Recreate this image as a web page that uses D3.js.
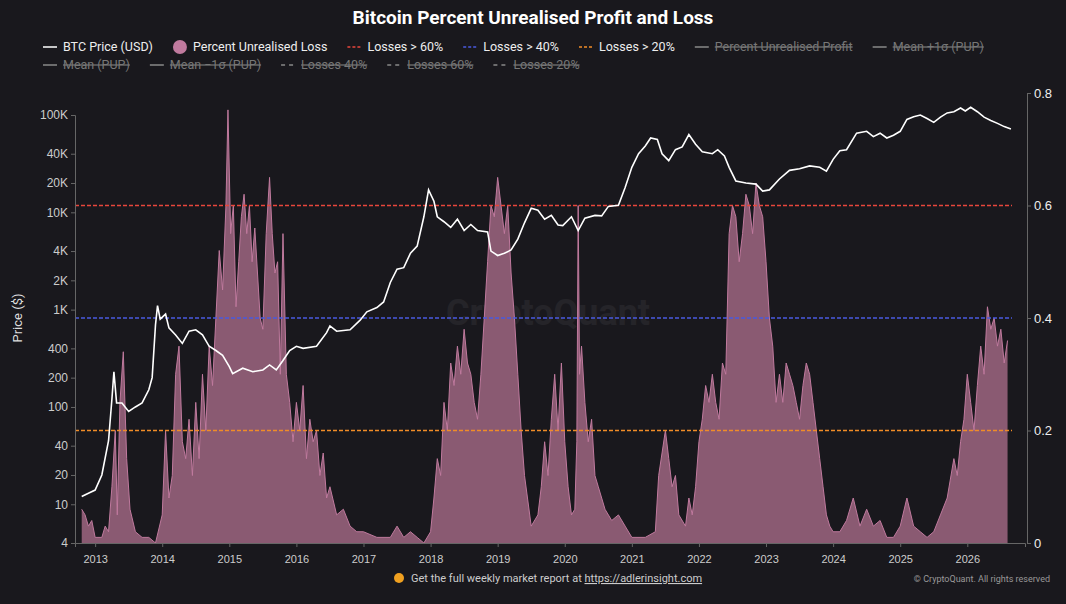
<!DOCTYPE html>
<html><head><meta charset="utf-8">
<script src="https://cdn.jsdelivr.net/npm/d3@7"></script>
<style>body{margin:0;background:#19181d;}svg{display:block;font-family:Roboto,"Open Sans",sans-serif;}</style>
</head><body><svg id="c" width="1066" height="604"></svg>
<script>
const priceDates=[2012.8,2012.9,2013.0,2013.1,2013.2,2013.25,2013.28,2013.32,2013.4,2013.5,2013.6,2013.7,2013.8,2013.85,2013.9,2013.93,2013.97,2014.05,2014.1,2014.2,2014.3,2014.4,2014.5,2014.6,2014.7,2014.8,2014.9,2015.0,2015.05,2015.2,2015.35,2015.5,2015.6,2015.7,2015.8,2015.9,2016.0,2016.1,2016.3,2016.45,2016.5,2016.6,2016.8,2016.95,2017.05,2017.2,2017.3,2017.4,2017.5,2017.6,2017.7,2017.8,2017.9,2017.97,2018.05,2018.1,2018.2,2018.3,2018.4,2018.5,2018.6,2018.7,2018.85,2018.9,2019.0,2019.1,2019.2,2019.3,2019.4,2019.5,2019.6,2019.7,2019.8,2019.9,2019.97,2020.1,2020.2,2020.3,2020.45,2020.55,2020.65,2020.8,2020.9,2021.0,2021.1,2021.2,2021.28,2021.38,2021.45,2021.55,2021.65,2021.75,2021.85,2021.95,2022.05,2022.2,2022.28,2022.38,2022.45,2022.55,2022.7,2022.85,2022.95,2023.05,2023.2,2023.35,2023.5,2023.65,2023.8,2023.9,2024.0,2024.1,2024.2,2024.35,2024.5,2024.6,2024.7,2024.8,2024.9,2025.0,2025.1,2025.2,2025.3,2025.4,2025.5,2025.6,2025.7,2025.8,2025.9,2025.97,2026.05,2026.15,2026.25,2026.35,2026.45,2026.55,2026.65];
const priceValues=[12,13,14,20,45,120,230,110,110,90,100,110,150,200,700,1100,800,900,650,550,450,600,620,550,420,380,340,260,220,250,230,240,270,240,300,380,420,400,420,580,680,600,620,780,950,1050,1200,1900,2600,2700,3800,4500,9000,17000,13000,9000,8000,7000,8500,6500,7500,6500,6300,4000,3600,3800,4100,5300,7800,11000,10500,8500,9300,7400,7300,9000,6500,8700,9300,9200,11500,11800,18000,29000,40000,48000,58000,56000,40000,34000,44000,47000,63000,50000,42000,40000,44000,38000,29000,21000,20000,19500,16500,17000,22000,27000,28000,30000,29000,26500,35000,43000,44000,65000,68000,60000,65000,58000,62000,68000,90000,96000,100000,92000,84000,95000,105000,108000,118000,110000,120000,108000,95000,88000,82000,76000,72000,69000,68000,70000];
const lossDates=[2012.8,2012.85,2012.9,2012.95,2013.0,2013.1,2013.15,2013.2,2013.25,2013.3,2013.33,2013.37,2013.42,2013.47,2013.52,2013.6,2013.7,2013.8,2013.9,2014.0,2014.05,2014.1,2014.15,2014.2,2014.25,2014.3,2014.35,2014.4,2014.45,2014.5,2014.55,2014.6,2014.65,2014.7,2014.75,2014.8,2014.85,2014.9,2014.95,2014.98,2015.02,2015.06,2015.1,2015.14,2015.18,2015.22,2015.26,2015.3,2015.34,2015.38,2015.42,2015.46,2015.5,2015.55,2015.6,2015.64,2015.68,2015.72,2015.76,2015.8,2015.85,2015.9,2015.95,2016.0,2016.05,2016.1,2016.15,2016.2,2016.25,2016.3,2016.35,2016.4,2016.45,2016.5,2016.6,2016.7,2016.8,2016.9,2017.0,2017.2,2017.4,2017.5,2017.6,2017.7,2017.8,2017.9,2018.0,2018.05,2018.1,2018.15,2018.2,2018.25,2018.3,2018.35,2018.4,2018.45,2018.5,2018.55,2018.6,2018.65,2018.7,2018.75,2018.8,2018.85,2018.9,2018.95,2019.0,2019.05,2019.1,2019.15,2019.2,2019.25,2019.3,2019.35,2019.4,2019.5,2019.6,2019.65,2019.7,2019.75,2019.8,2019.85,2019.9,2019.95,2020.0,2020.05,2020.1,2020.15,2020.18,2020.2,2020.22,2020.25,2020.3,2020.35,2020.4,2020.45,2020.5,2020.6,2020.7,2020.8,2020.9,2021.0,2021.2,2021.35,2021.4,2021.45,2021.5,2021.55,2021.6,2021.65,2021.7,2021.8,2021.85,2021.9,2021.95,2022.0,2022.05,2022.1,2022.15,2022.2,2022.25,2022.3,2022.35,2022.4,2022.45,2022.5,2022.55,2022.6,2022.65,2022.7,2022.75,2022.8,2022.85,2022.9,2022.95,2023.0,2023.05,2023.1,2023.15,2023.2,2023.25,2023.3,2023.35,2023.4,2023.45,2023.5,2023.55,2023.6,2023.65,2023.7,2023.75,2023.8,2023.85,2023.9,2023.95,2024.0,2024.1,2024.2,2024.3,2024.4,2024.5,2024.6,2024.7,2024.8,2024.9,2025.0,2025.1,2025.2,2025.3,2025.4,2025.5,2025.6,2025.7,2025.8,2025.85,2025.9,2025.95,2026.0,2026.05,2026.1,2026.15,2026.2,2026.25,2026.3,2026.35,2026.4,2026.45,2026.5,2026.55,2026.6,2026.65,2026.68];
const lossValues=[0.06,0.05,0.03,0.04,0.01,0.01,0.03,0.02,0.1,0.2,0.05,0.25,0.34,0.15,0.06,0.02,0.01,0.01,0.0,0.05,0.2,0.08,0.12,0.3,0.35,0.18,0.15,0.22,0.12,0.25,0.15,0.3,0.2,0.35,0.28,0.4,0.52,0.45,0.6,0.77,0.55,0.6,0.42,0.5,0.58,0.62,0.55,0.6,0.5,0.56,0.48,0.4,0.38,0.55,0.65,0.55,0.48,0.5,0.3,0.55,0.3,0.25,0.18,0.25,0.2,0.28,0.15,0.22,0.18,0.2,0.12,0.16,0.08,0.1,0.05,0.06,0.03,0.02,0.02,0.01,0.01,0.03,0.01,0.02,0.01,0.0,0.02,0.08,0.15,0.12,0.25,0.2,0.32,0.28,0.35,0.3,0.38,0.32,0.3,0.25,0.22,0.3,0.4,0.5,0.6,0.58,0.65,0.6,0.55,0.6,0.48,0.4,0.3,0.2,0.12,0.03,0.05,0.1,0.18,0.12,0.22,0.3,0.2,0.32,0.18,0.1,0.05,0.06,0.18,0.6,0.3,0.35,0.25,0.18,0.22,0.12,0.1,0.06,0.04,0.05,0.03,0.01,0.01,0.02,0.12,0.16,0.2,0.15,0.1,0.12,0.05,0.03,0.08,0.05,0.1,0.18,0.22,0.28,0.25,0.3,0.25,0.22,0.32,0.3,0.55,0.6,0.58,0.5,0.55,0.62,0.6,0.55,0.64,0.6,0.58,0.5,0.4,0.35,0.25,0.3,0.25,0.32,0.3,0.28,0.25,0.22,0.28,0.32,0.3,0.25,0.2,0.15,0.1,0.05,0.03,0.02,0.02,0.04,0.08,0.03,0.06,0.03,0.04,0.01,0.01,0.03,0.08,0.03,0.02,0.01,0.02,0.05,0.08,0.15,0.12,0.18,0.22,0.3,0.25,0.2,0.28,0.35,0.3,0.42,0.38,0.4,0.35,0.38,0.32,0.36];
const priceTicks=[4,10,20,40,100,200,400,1000,2000,4000,10000,20000,40000,100000];
const priceTickLabels=["4","10","20","40","100","200","400","1K","2K","4K","10K","20K","40K","100K"];
const rightTicks=[0,0.2,0.4,0.6,0.8];
const yearTicks=[2013,2014,2015,2016,2017,2018,2019,2020,2021,2022,2023,2024,2025,2026];
const thresholds=[{v:0.6,c:"#e8463c"},{v:0.4,c:"#4a5ae0"},{v:0.2,c:"#f08c28"}];

const svg=d3.select("#c");
const L=75,R=1025,T=93,B=543;
const x=d3.scaleLinear().domain([2012.7,2026.86]).range([L,R]);
const yP=d3.scaleLog().domain([4,100000]).range([B,115]);
const yL=d3.scaleLinear().domain([0,0.8]).range([B,T]);

svg.append("text").attr("x",533).attr("y",24).attr("text-anchor","middle").attr("fill","#fff").attr("font-size",19).attr("font-weight","bold").text("Bitcoin Percent Unrealised Profit and Loss");

const leg1=[["line","BTC Price (USD)","#fff",false],["dot","Percent Unrealised Loss","#c07a9e",false],["dash","Losses > 60%","#e8463c",false],["dash","Losses > 40%","#4a5ae0",false],["dash","Losses > 20%","#f08c28",false],["line","Percent Unrealised Profit","#888",true],["line","Mean +1σ (PUP)","#888",true]];
const leg2=[["line","Mean (PUP)","#888",true],["line","Mean −1σ (PUP)","#888",true],["dash2","Losses 40%","#888",true],["dash2","Losses 60%","#888",true],["dash2","Losses 20%","#888",true]];
function drawLeg(items,y,x0){let xx=x0;items.forEach(([t,lab,c,off])=>{
 if(t==="dot")svg.append("circle").attr("cx",xx+7).attr("cy",y-4).attr("r",7).attr("fill",c);
 else svg.append("line").attr("x1",xx).attr("x2",xx+14).attr("y1",y-4).attr("y2",y-4).attr("stroke",c).attr("stroke-width",t==="line"?1.5:1.4).attr("stroke-dasharray",t==="dash"?"3,2":t==="dash2"?"4,4":null);
 const tx=svg.append("text").attr("x",xx+20).attr("y",y).attr("fill",off?"#777":"#eee").attr("font-size",12.5).attr("text-decoration",off?"line-through":null).text(lab);
 xx+=20+tx.node().getComputedTextLength()+20;});}
drawLeg(leg1,51,43);drawLeg(leg2,69,43);

svg.append("text").attr("x",548).attr("y",325).attr("text-anchor","middle").attr("fill","#fff").attr("opacity",0.05).attr("font-size",36).attr("font-weight","bold").text("CryptoQuant");

const n=Math.min(lossDates.length,lossValues.length);
const lossData=d3.range(n).map(i=>[lossDates[i],lossValues[i]]);
svg.append("path").datum(lossData).attr("fill","#8a5a72")
 .attr("d",d3.area().x(d=>x(d[0])).y0(B).y1(d=>yL(d[1])));
svg.append("path").datum(lossData).attr("fill","none").attr("stroke","#c07a9e").attr("stroke-width",1)
 .attr("d",d3.line().x(d=>x(d[0])).y(d=>yL(d[1])));

thresholds.forEach(t=>svg.append("line").attr("x1",L).attr("x2",1012).attr("y1",yL(t.v)).attr("y2",yL(t.v)).attr("stroke",t.c).attr("stroke-dasharray","4,2").attr("stroke-width",1.5));

const m=Math.min(priceDates.length,priceValues.length);
const priceData=d3.range(m).map(i=>[priceDates[i],priceValues[i]]);
svg.append("path").datum(priceData).attr("fill","none").attr("stroke","#fff").attr("stroke-width",1.6)
 .attr("d",d3.line().x(d=>x(d[0])).y(d=>yP(d[1])));

const gl=svg.append("g").attr("transform",`translate(${L},0)`).call(d3.axisLeft(yP).tickValues(priceTicks).tickFormat((d,i)=>priceTickLabels[i]).tickSize(4));
const gr=svg.append("g").attr("transform",`translate(${R+2},0)`).call(d3.axisRight(yL).tickValues(rightTicks).tickFormat(d=>d===0?"0":d3.format(".1f")(d)).tickSize(4));
const gb=svg.append("g").attr("transform",`translate(0,${B})`).call(d3.axisBottom(x).tickValues(yearTicks).tickFormat(d3.format("d")).tickSize(4));
[gl,gr,gb].forEach(g=>{g.selectAll("path,line").attr("stroke","#666");g.selectAll("text").attr("fill","#ccc").attr("font-size",12);});
gb.selectAll("text").attr("font-size",11).attr("dy","1.2em");
gr.selectAll("text").attr("font-size",13).attr("fill","#eee");
svg.append("text").attr("transform","translate(22,318) rotate(-90)").attr("text-anchor","middle").attr("fill","#ddd").attr("font-size",13).text("Price ($)");

svg.append("circle").attr("cx",399).attr("cy",578).attr("r",5).attr("fill","#f0a020");
const ft=svg.append("text").attr("x",411).attr("y",582).attr("fill","#ccc").attr("font-size",11);
ft.append("tspan").text("Get the full weekly market report at ");
ft.append("tspan").attr("text-decoration","underline").text("https://adlerinsight.com");
svg.append("text").attr("x",1050).attr("y",582).attr("text-anchor","end").attr("fill","#999").attr("font-size",9).text("© CryptoQuant. All rights reserved");
</script></body></html>
